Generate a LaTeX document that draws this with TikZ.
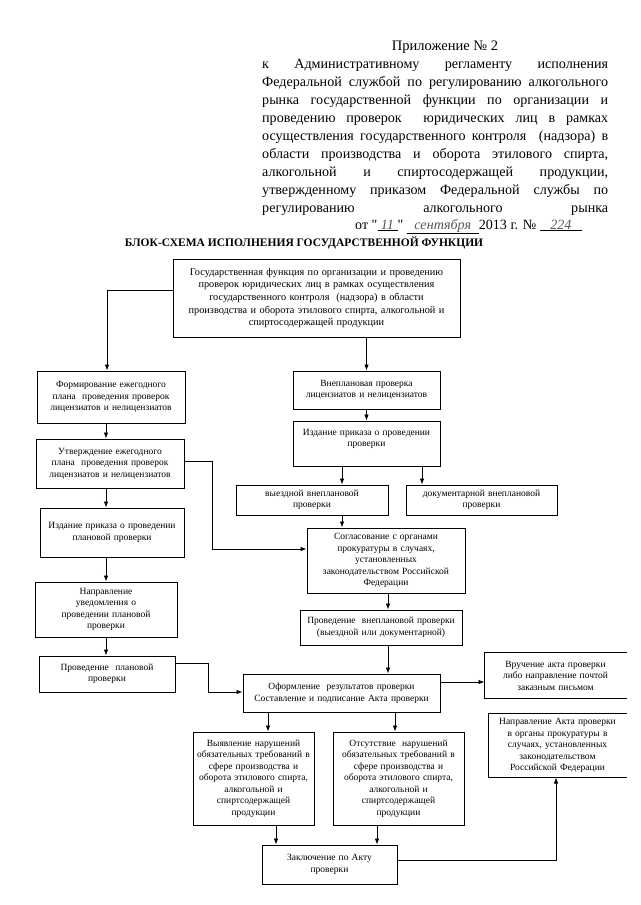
\documentclass[tikz,border=0pt]{standalone}
\usepackage{fontspec}
\setmainfont{Liberation Serif}
\newfontfamily\qf{Liberation Serif}
\usetikzlibrary{arrows.meta,calc}
\newcommand{\hwr}[2]{\underline{\makebox[#2]{\color{black!65}\itshape #1}}}
\newcommand{\hl}[1]{\makebox[346pt][s]{#1}}
\newcommand{\sq}{{\qf\symbol{34}}}
\tikzset{
  box/.style={draw, line width=1pt, align=center, inner sep=1pt,
    font=\fontsize{9.5}{11.5}\selectfont},
  obox/.style={box, draw=none},
  bline/.style={line width=1pt},
  arr/.style={line width=0.8pt, -{Latex[length=6pt,width=4.5pt]}},
  htext/.style={anchor=base west, inner sep=0pt, font=\fontsize{14.1}{17}\selectfont},
}
\begin{document}
\begin{tikzpicture}[x=1pt,y=-1pt]
\fill[white] (0,0) rectangle (640,905);
\useasboundingbox (0,0) rectangle (640,905);

% ---------- header ----------
\node[anchor=base, inner sep=0pt, font=\fontsize{14.5}{17}\selectfont] (h0) at (445,50) {Приложение № 2};
\node[htext] (h1) at (262,68) {\hl{к Административному регламенту исполнения}};
\node[htext] (h2) at (262,86) {\hl{Федеральной службой по регулированию алкогольного}};
\node[htext] (h3) at (262,104) {\hl{рынка государственной функции по организации и}};
\node[htext] (h4) at (262,122) {\hl{проведению проверок\ \ юридических лиц в рамках}};
\node[htext] (h5) at (262,140) {\hl{осуществления государственного контроля\ \ (надзора) в}};
\node[htext] (h6) at (262,158) {\hl{области производства и оборота этилового спирта,}};
\node[htext] (h7) at (262,176) {\hl{алкогольной и спиртосодержащей продукции,}};
\node[htext] (h8) at (262,194) {\hl{утвержденному приказом Федеральной службы по}};
\node[htext] (h9) at (262,212) {\hl{регулированию алкогольного рынка}};
\node[htext] (h10) at (355,229) {от \sq\hwr{11}{20pt}\sq\ \hwr{сентября}{72pt}2013 г. № \hwr{224}{42pt}};

\node[anchor=base, inner sep=0pt, font=\bfseries\fontsize{11.5}{14}\selectfont] (title) at (304,246) {БЛОК-СХЕМА ИСПОЛНЕНИЯ ГОСУДАРСТВЕННОЙ ФУНКЦИИ};

% ---------- boxes ----------
\node[box, font=\fontsize{10.3}{12.7}\selectfont, minimum width=287pt, minimum height=78pt, text width=283pt] (A) at (316.5,298)
 {Государственная функция по организации и проведению\\проверок юридических лиц в рамках осуществления\\государственного контроля\ \ (надзора) в области\\производства и оборота этилового спирта, алкогольной и\\спиртосодержащей продукции};

\node[box, minimum width=148pt, minimum height=52pt, text width=144pt] (B) at (111,397)
 {Формирование ежегодного\\плана\ \ проведения проверок\\лицензиатов и нелицензиатов};
\node[box, minimum width=147pt, minimum height=38pt, text width=143pt] (C) at (366.5,390)
 {Внеплановая проверка\\лицензиатов и нелицензиатов};
\node[box, minimum width=147pt, minimum height=45pt, text width=143pt] (D) at (366.5,443.5)
 {Издание приказа о проведении\\проверки\\~};
\node[box, minimum width=148pt, minimum height=49pt, text width=144pt] (E) at (110,463.5)
 {Утверждение ежегодного\\плана\ \ проведения проверок\\лицензиатов и нелицензиатов};
\node[box, minimum width=152pt, minimum height=30pt, text width=148pt] (F) at (312,500)
 {выездной внеплановой\\проверки};
\node[box, minimum width=151pt, minimum height=30pt, text width=147pt] (G) at (481.5,500)
 {документарной внеплановой\\проверки};
\node[box, minimum width=144pt, minimum height=49pt, text width=140pt] (H) at (112,532.5)
 {Издание приказа о проведении\\плановой проверки};
\node[box, minimum width=158pt, minimum height=65pt, text width=154pt] (I) at (386,560.5)
 {Согласование с органами\\прокуратуры в случаях,\\установленных\\законодательством Российской\\Федерации};
\node[box, minimum width=142pt, minimum height=55pt, text width=138pt] (J) at (106,609.5)
 {Направление\\уведомления о\\проведении плановой\\проверки};
\node[box, minimum width=162pt, minimum height=35pt, text width=158pt] (K) at (381,627.5)
 {Проведение\ \ внеплановой проверки\\(выездной или документарной)};
\node[box, minimum width=136pt, minimum height=36pt, text width=132pt] (L) at (107,674)
 {Проведение\ \ плановой\\проверки\\[3pt]};
\node[box, minimum width=197pt, minimum height=38pt, text width=193pt] (M) at (341.5,693)
 {Оформление\ \ результатов проверки\\Составление и подписание Акта проверки};
\node[obox, minimum width=141pt, minimum height=45pt, text width=137pt] (N) at (555.5,675.5)
 {Вручение акта проверки\\либо направление почтой\\заказным письмом};
\draw[bline] (N.north east) -- (N.north west) -- (N.south west) -- (N.south east);
\node[box, minimum width=121pt, minimum height=93pt, text width=119pt] (O) at (253.5,778.5)
 {Выявление нарушений\\обязательных требований в\\сфере производства и\\оборота этилового спирта,\\алкогольной и\\спиртсодержащей\\продукции};
\node[box, minimum width=131pt, minimum height=93pt, text width=127pt] (P) at (398.5,778.5)
 {Отсутствие\ \ нарушений\\обязательных требований в\\сфере производства и\\оборота этилового спирта,\\алкогольной и\\спиртсодержащей\\продукции};
\node[obox, minimum width=137pt, minimum height=63pt, text width=133pt] (Q) at (557.5,745.5)
 {Направление Акта проверки\\в органы прокуратуры в\\случаях, установленных\\законодательством\\Российской Федерации};
\draw[bline] (Q.north east) -- (Q.north west) -- (Q.south west) -- (Q.south east);
\node[box, minimum width=135pt, minimum height=39pt, text width=131pt] (R) at (329.5,864.5)
 {Заключение по Акту\\проверки\\[4pt]};

% ---------- helper coordinates ----------
\coordinate (a1) at (107,290);
\coordinate (bx) at (106,0);
\coordinate (fx) at (342,0);
\coordinate (gx) at (422,0);
\coordinate (ix) at (388,0);
\coordinate (e1) at (212,461);
\coordinate (i1) at (307,549);
\coordinate (l1) at (208,663);
\coordinate (m1) at (243,692);
\coordinate (m2) at (441,682);
\coordinate (ox) at (268,0);
\coordinate (px) at (395,0);
\coordinate (o2) at (276,0);
\coordinate (p2) at (377,0);
\coordinate (r1) at (397,860);
\coordinate (q1) at (556,860);

% ---------- connectors ----------
\draw[arr] (A.west |- a1) -| (B.north -| a1);
\draw[arr] (A.south -| C.north) -- (C.north);
\draw[arr] (B.south -| bx) -- (E.north -| bx);
\draw[arr] (C.south) -- (D.north);
\draw[arr] (D.south -| fx) -- (F.north -| fx);
\draw[arr] (D.south -| gx) -- (G.north -| gx);
\draw[arr] (E.east |- e1) -- (e1) |- (I.west |- i1);
\draw[arr] (F.south -| fx) -- (I.north -| fx);
\draw[arr] (E.south -| bx) -- (H.north -| bx);
\draw[arr] (H.south -| bx) -- (J.north -| bx);
\draw[arr] (J.south -| bx) -- (L.north -| bx);
\draw[arr] (I.south -| ix) -- (K.north -| ix);
\draw[arr] (K.south -| ix) -- (M.north -| ix);
\draw[arr] (L.east |- l1) -- (l1) |- (M.west |- m1);
\draw[arr] (M.east |- m2) -- (N.west |- m2);
\draw[arr] (M.south -| ox) -- (O.north -| ox);
\draw[arr] (M.south -| px) -- (P.north -| px);
\draw[arr] (O.south -| o2) -- (R.north -| o2);
\draw[arr] (P.south -| p2) -- (R.north -| p2);
\draw[arr] (R.east |- r1) -| (Q.south -| q1);
\end{tikzpicture}
\end{document}
